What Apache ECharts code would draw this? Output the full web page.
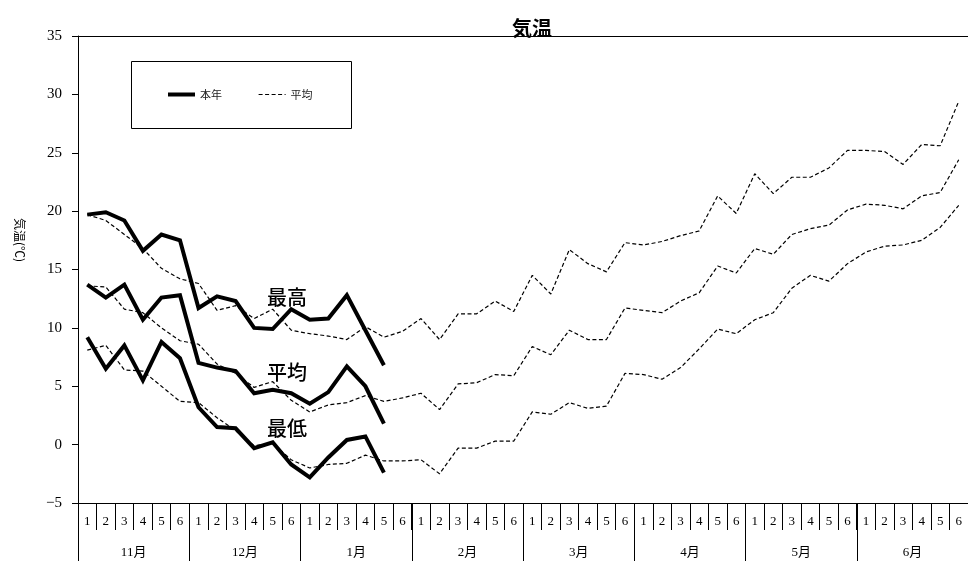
<!DOCTYPE html>
<html>
<head>
<meta charset="utf-8">
<script src="https://cdn.jsdelivr.net/npm/echarts@6/dist/echarts.min.js"></script>
<style>
html,body{margin:0;padding:0;background:#fff;}
#chart{width:968px;height:561px;}
</style>
</head>
<body>
<div id="chart"></div>
<script>
const months = ['11月','12月','1月','2月','3月','4月','5月','6月'];
const pentads = ['1','2','3','4','5','6'];
const categories = [];
months.forEach(m => pentads.forEach(p => categories.push(m + p)));

const curMax  = [19.7, 19.9, 19.2, 16.6, 18.0, 17.5, 11.7, 12.7, 12.3, 10.0, 9.9, 11.6, 10.7, 10.8, 12.8, 9.8, 6.8];
const curMean = [13.7, 12.6, 13.7, 10.7, 12.6, 12.8, 7.0, 6.6, 6.3, 4.4, 4.7, 4.4, 3.5, 4.5, 6.7, 5.0, 1.8];
const curMin  = [9.2, 6.5, 8.5, 5.5, 8.8, 7.4, 3.2, 1.5, 1.4, -0.3, 0.2, -1.7, -2.8, -1.1, 0.4, 0.7, -2.4];

const avgMax = [19.7, 19.2, 18.0, 16.8, 15.1, 14.2, 13.8, 11.5, 11.9, 10.8, 11.6, 9.8,
                9.5, 9.3, 9.0, 10.1, 9.2, 9.7, 10.8, 9.0, 11.2, 11.2, 12.3, 11.4,
                14.5, 12.9, 16.7, 15.5, 14.8, 17.3, 17.1, 17.4, 17.9, 18.3, 21.3, 19.8,
                23.2, 21.5, 22.9, 22.9, 23.7, 25.2, 25.2, 25.1, 24.0, 25.7, 25.6, 29.4];
const avgMean = [13.6, 13.5, 11.6, 11.3, 10.0, 8.9, 8.6, 6.9, 6.1, 4.9, 5.4, 3.8,
                 2.8, 3.4, 3.6, 4.2, 3.7, 4.0, 4.4, 3.0, 5.2, 5.3, 6.0, 5.9,
                 8.4, 7.7, 9.8, 9.0, 9.0, 11.7, 11.5, 11.3, 12.3, 13.0, 15.3, 14.7,
                 16.8, 16.3, 18.0, 18.5, 18.8, 20.1, 20.6, 20.5, 20.2, 21.3, 21.6, 24.4];
const avgMin = [8.1, 8.5, 6.4, 6.3, 5.0, 3.7, 3.6, 2.3, 1.2, -0.1, 0.1, -1.3,
                -2.0, -1.7, -1.6, -0.9, -1.4, -1.4, -1.3, -2.5, -0.3, -0.3, 0.3, 0.3,
                2.8, 2.6, 3.6, 3.1, 3.3, 6.1, 6.0, 5.6, 6.6, 8.2, 9.9, 9.5,
                10.7, 11.3, 13.4, 14.5, 14.0, 15.5, 16.5, 17.0, 17.1, 17.5, 18.6, 20.5];

const yTicks = {min: -5, max: 35, interval: 5};
const titleText = '気温';
const yName = '気温(℃)';
const seriesLabels = [{text: '最高', x: 287, y: 297}, {text: '平均', x: 287, y: 372}, {text: '最低', x: 287, y: 428}];

const serif = "'Liberation Serif','DejaVu Serif','Noto Sans CJK JP',serif";
const sans = "'Noto Sans CJK JP','Noto Sans',sans-serif";

const chart = echarts.init(document.getElementById('chart'));

function cur(data) {
  return {name: '本年', type: 'line', data: data, xAxisIndex: 0, yAxisIndex: 0,
    symbol: 'none', lineStyle: {color: '#000', width: 4, join: 'miter'}, itemStyle: {color: '#000'}, z: 3};
}
function avg(data) {
  return {name: '平均', type: 'line', data: data, xAxisIndex: 0, yAxisIndex: 0,
    symbol: 'none', lineStyle: {color: '#000', width: 1.2, type: [4, 2.5]}, itemStyle: {color: '#000'}, z: 2};
}

chart.setOption({
  animation: false,
  backgroundColor: '#fff',
  title: {text: titleText, left: 527, top: 13, textAlign: 'center',
    textStyle: {fontFamily: sans, fontSize: 20, fontWeight: 'bold', color: '#000'}},
  grid: {left: 78, right: 0, top: 36, bottom: 58},
  legend: {data: ['本年', '平均'], left: 166, top: 89, itemWidth: 27, itemHeight: 12, itemGap: 36,
    padding: 0, selectedMode: false,
    itemStyle: {opacity: 0, borderWidth: 0},
    lineStyle: {width: 'inherit'},
    textStyle: {fontFamily: sans, fontSize: 11, color: '#222'}},
  xAxis: [
    {type: 'category', data: categories, position: 'bottom', boundaryGap: true,
      axisLine: {show: true, onZero: false, lineStyle: {color: '#000', width: 1}},
      axisTick: {show: true, interval: 0, length: 27, lineStyle: {color: '#000'}},
      axisLabel: {interval: 0, margin: 12, fontFamily: serif, fontSize: 13, color: '#000',
        formatter: v => v.slice(-1)}},
    {type: 'category', data: months, position: 'bottom', boundaryGap: true,
      axisLine: {show: false, onZero: false},
      axisTick: {show: true, interval: 0, length: 60, lineStyle: {color: '#000'}},
      axisLabel: {interval: 0, margin: 43, fontFamily: serif, fontSize: 13, color: '#000'}},
    {type: 'category', data: categories, position: 'top',
      axisLine: {show: true, onZero: false, lineStyle: {color: '#000', width: 1}},
      axisTick: {show: false}, axisLabel: {show: false}}
  ],
  yAxis: {type: 'value', min: yTicks.min, max: yTicks.max, interval: yTicks.interval,
    axisLine: {show: true, onZero: false, lineStyle: {color: '#000'}},
    axisTick: {show: true, length: 6, lineStyle: {color: '#000'}},
    splitLine: {show: false},
    axisLabel: {margin: 16, fontFamily: serif, fontSize: 15, color: '#000',
      formatter: v => String(v).replace('-', '−')}},
  graphic: [
    {type: 'rect', shape: {x: 131.5, y: 61.5, width: 220, height: 67},
      style: {fill: 'none', stroke: '#000', lineWidth: 1}, z: 0, silent: true},
    {type: 'text', x: 20, y: 240, rotation: -Math.PI / 2,
      style: {text: yName, fontFamily: sans, fontSize: 12, fill: '#000', align: 'center', verticalAlign: 'middle'}},
    ...seriesLabels.map(l => ({type: 'text', x: l.x, y: l.y, z: 10,
      style: {text: l.text, fontFamily: sans, fontSize: 20, fontWeight: 500, fill: '#000', align: 'center', verticalAlign: 'middle'}}))
  ],
  series: [cur(curMax), cur(curMean), cur(curMin), avg(avgMax), avg(avgMean), avg(avgMin)]
});
</script>
</body>
</html>
